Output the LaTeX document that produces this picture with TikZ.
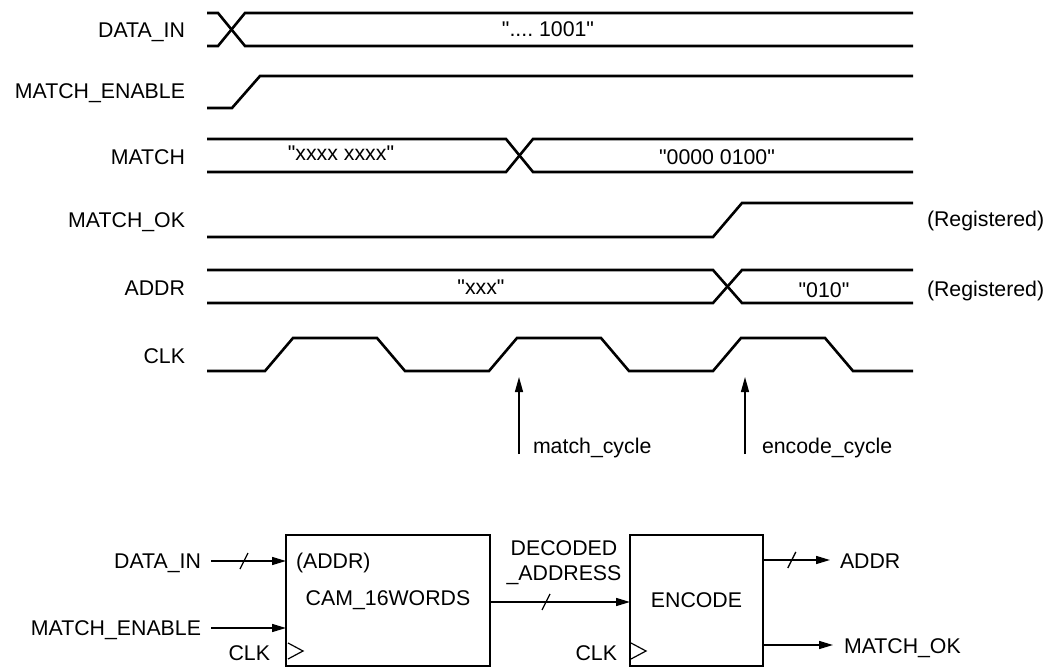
\documentclass[tikz,border=0pt]{standalone}
\usepackage{fontspec}
\setmainfont{Liberation Sans}
\usetikzlibrary{arrows.meta,calc}
\begin{document}
\begin{tikzpicture}[x=1pt,y=-1pt,
  lbl/.style={inner sep=0pt, outer sep=0pt, font=\fontsize{21.3}{25}\selectfont},
  wave/.style={line width=2.6pt, line join=miter},
  sig/.style={line width=1.5pt, -{Triangle[length=14pt,width=8pt]}},
  cyc/.style={line width=1.3pt, -{Triangle[length=15pt,width=8pt]}},
  slashmark/.style={line width=1.3pt},
  blk/.style={draw, line width=2.7pt, inner sep=0pt, outer sep=0pt, font=\fontsize{21.3}{25}\selectfont},
  clkt/.style={line width=1.2pt}]
\useasboundingbox (0,0) rectangle (1058,668);

% ---------- timing labels ----------
\node[lbl, anchor=base east] (tdin) at (185,38) {DATA\_IN};
\node[lbl, anchor=base east] (tme) at (185,99) {MATCH\_ENABLE};
\node[lbl, anchor=base east] (tm) at (185,165) {MATCH};
\node[lbl, anchor=base east] (tmok) at (185,228) {MATCH\_OK};
\node[lbl, anchor=base east] (taddr) at (185,296) {ADDR};
\node[lbl, anchor=base east] (tclk) at (185,363) {CLK};

% ---------- waveforms ----------
% DATA_IN
\draw[wave] (207,13) -- (218,13) -- (245,46) -- (913,46);
\draw[wave] (207,46) -- (218,46) -- (245,13) -- (913,13);
\node[lbl, anchor=base] (vdin) at (548,37) {\textquotedbl....\ 1001\textquotedbl};
% MATCH_ENABLE
\draw[wave] (207,108) -- (232,108) -- (260,76) -- (913,76);
% MATCH
\draw[wave] (207,139) -- (506,139) -- (533,172) -- (913,172);
\draw[wave] (207,172) -- (506,172) -- (533,139) -- (913,139);
\node[lbl, anchor=base] (vm1) at (341,161) {\textquotedbl xxxx xxxx\textquotedbl};
\node[lbl, anchor=base] (vm2) at (717,165) {\textquotedbl 0000 0100\textquotedbl};
% MATCH_OK
\draw[wave] (207,237) -- (713,237) -- (742,203) -- (913,203);
\node[lbl, anchor=base west] (reg1) at (927,227) {(Registered)};
% ADDR
\draw[wave] (207,270) -- (713,270) -- (742,303) -- (913,303);
\draw[wave] (207,303) -- (713,303) -- (742,270) -- (913,270);
\node[lbl, anchor=base] (va1) at (481,295) {\textquotedbl xxx\textquotedbl};
\node[lbl, anchor=base] (va2) at (824,298) {\textquotedbl 010\textquotedbl};
\node[lbl, anchor=base west] (reg2) at (927,297) {(Registered)};
% CLK
\draw[wave] (207,371) -- (265,371) -- (293,338) -- (377,338) -- (405,371)
  -- (489,371) -- (517,338) -- (601,338) -- (629,371)
  -- (713,371) -- (741,338) -- (825,338) -- (853,371) -- (913,371);

% cycle markers
\coordinate (mcb) at (519,454);
\coordinate (mct) at (519,377);
\draw[cyc] (mcb) -- (mct);
\node[lbl, anchor=base west] (mcl) at (533,453) {match\_cycle};
\coordinate (ecb) at (745,454);
\coordinate (ect) at (745,377);
\draw[cyc] (ecb) -- (ect);
\node[lbl, anchor=base west] (ecl) at (762,453) {encode\_cycle};

% ---------- block diagram ----------
\node[blk, minimum width=204pt, minimum height=131pt] (cam) at (388,600.5) {CAM\_16WORDS};
\node[blk, minimum width=133pt, minimum height=131pt] (enc) at (696.5,600.5) {ENCODE};

\node[lbl, anchor=base west] (camaddr) at (296,568) {(ADDR)};

% inputs
\node[lbl, anchor=base east] (bdin) at (201,568) {DATA\_IN};
\coordinate (dins) at (211,561);
\coordinate (dine) at (dins -| cam.west);
\draw[sig] (dins) -- (dine);
\draw[slashmark] ($(dins)!0.44!(dine)$) +(-4,8) -- +(4,-8);

\node[lbl, anchor=base east] (bme) at (201,635) {MATCH\_ENABLE};
\coordinate (mes) at (211,628);
\draw[sig] (mes) -- (mes -| cam.west);

\node[lbl, anchor=base east] (bclk1) at (270,660) {CLK};
\draw[clkt] (288,643) -- (303,651) -- (288,659);

% decoded address
\node[lbl, anchor=base] (dec1) at (564,555) {DECODED};
\node[lbl, anchor=base] (dec2) at (564,580) {\_ADDRESS};
\coordinate (decs) at (cam.east |- 0,602);
\coordinate (dece) at (enc.west |- 0,602);
\draw[sig] (decs) -- (dece);
\draw[slashmark] ($(decs)!0.4!(dece)$) +(-4,8) -- +(4,-8);

\node[lbl, anchor=base east] (bclk2) at (617,660) {CLK};
\draw[clkt] (631,643) -- (646,651) -- (631,659);

% outputs
\node[lbl, anchor=base west] (baddr) at (840,568) {ADDR};
\coordinate (aos) at (enc.east |- 0,560);
\coordinate (aoe) at (830,560);
\draw[sig] (aos) -- (aoe);
\draw[slashmark] ($(aos)!0.43!(aoe)$) +(-4,8) -- +(4,-8);

\node[lbl, anchor=base west] (bmok) at (844,653) {MATCH\_OK};
\coordinate (mos) at (enc.east |- 0,645);
\coordinate (moe) at (833,645);
\draw[sig] (mos) -- (moe);
\end{tikzpicture}
\end{document}
